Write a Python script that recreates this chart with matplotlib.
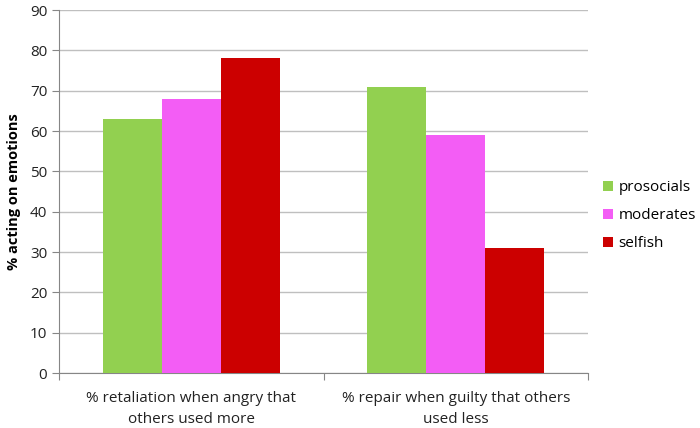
import numpy as np
import matplotlib.pyplot as plt

plt.rcParams['font.family'] = ['Open Sans', 'DejaVu Sans']

# Данные
categories = ["% retaliation when angry that\nothers used more",
              "% repair when guilty that others\nused less"]
groups = ["prosocials", "moderates", "selfish"]
prosocials = [63, 71]
moderates = [68, 59]
selfish = [78, 31]
colors = ["#92D050", "#F35DF5", "#CC0000"]

fig = plt.figure(figsize=(7, 4.28), dpi=100)
ax = fig.add_axes([0.0843, 0.1285, 0.7557, 0.848])

x = np.arange(len(categories))
width = 0.223
for i, (vals, name) in enumerate(zip([prosocials, moderates, selfish], groups)):
    ax.bar(x + (i - 1) * width, vals, width, color=colors[i], label=name, zorder=3)

ax.set_xlim(-0.5, 1.5)
ax.set_ylim(0, 90)
ax.set_yticks(range(0, 91, 10))
ax.yaxis.grid(True, color="#BFBFBF", linewidth=1, zorder=0)

# Деления на границах категорий
ax.set_xticks([-0.5, 0.5, 1.5])
ax.set_xticklabels([])
ax.set_xticks(x, minor=True)
ax.set_xticklabels(categories, minor=True, fontsize=11, color="#222222", linespacing=1.5)
ax.tick_params(axis="x", which="minor", length=0, pad=13)
ax.tick_params(axis="x", which="major", length=5, color="#868686")
ax.tick_params(axis="y", length=5, color="#868686", labelsize=11, labelcolor="#222222")

for s in ["top", "right"]:
    ax.spines[s].set_visible(False)
for s in ["left", "bottom"]:
    ax.spines[s].set_color("#868686")

ax.set_ylabel("% acting on emotions", fontsize=10.5, fontweight="bold", labelpad=6)

ax.legend(loc="center left", bbox_to_anchor=(0.851, 0.496), bbox_transform=fig.transFigure,
          frameon=False, fontsize=11, handlelength=0.65, handleheight=0.65,
          handletextpad=0.35, labelspacing=0.85, borderpad=0)

plt.savefig("out.png", dpi=100)
